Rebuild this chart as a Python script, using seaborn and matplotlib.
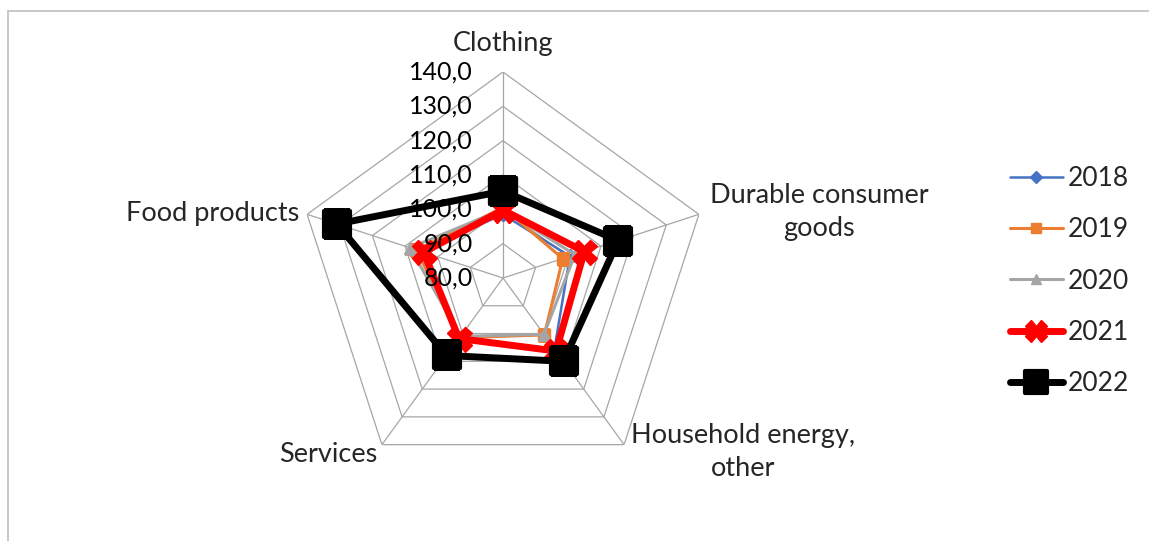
import numpy as np
import pandas as pd
import seaborn as sns
import matplotlib.pyplot as plt
from matplotlib.lines import Line2D
from matplotlib.markers import MarkerStyle
from matplotlib import transforms

# Chart data
categories = ["Clothing", "Durable consumer goods", "Household energy, other", "Services", "Food products"]
years = ["2018", "2019", "2020", "2021", "2022"]
v2018 = [98.5, 100.5, 105.5, 101.5, 105.5]
v2019 = [100.5, 98.3, 100.5, 101.5, 106.5]
v2020 = [100.0, 102.0, 100.3, 101.0, 108.5]
v2021 = [99.8, 104.9, 106.3, 101.8, 104.3]
v2022 = [105.3, 115.3, 110.0, 107.9, 130.9]
tick_values = [80, 90, 100, 110, 120, 130, 140]

series = dict(zip(years, [v2018, v2019, v2020, v2021, v2022]))

sns.set_theme(style="white")
plt.rcParams['font.family'] = ['Lato', 'DejaVu Sans']

W, H = 1149, 541
fig = plt.figure(figsize=(W / 100, H / 100), dpi=100)
fig.patch.set_facecolor("white")

# polar axes centred at (503, 278) px, radius ~206 px
cx, cy, rad = 503, 278, 206
ax = fig.add_axes([(cx - rad) / W, 1 - (cy + rad) / H, 2 * rad / W, 2 * rad / H], projection="polar")
ax.set_theta_offset(np.pi / 2)
ax.set_theta_direction(-1)
ax.set_ylim(80, 140)
ax.grid(False)
ax.spines["polar"].set_visible(False)
ax.set_xticks([])
ax.set_yticks([])
ax.set_facecolor("none")

n = len(categories)
theta = np.linspace(0, 2 * np.pi, n, endpoint=False)
theta_closed = np.append(theta, 2 * np.pi)

grid_col = "#a6a6a6"
# pentagon grid
for lv in tick_values[1:]:
    ax.plot(theta_closed, [lv] * (n + 1), color=grid_col, lw=0.9, zorder=1)
for t in theta:
    ax.plot([t, t], [80, 140], color=grid_col, lw=0.9, zorder=1)

# radial tick labels (drawn above the series, as in the original)
off = transforms.offset_copy(ax.transData, fig=fig, x=-30, y=0, units="dots")
for lv in tick_values:
    ax.text(0, lv, f"{lv:.1f}".replace(".", ","), transform=off, ha="right", va="center",
            fontsize=18, color="black", zorder=20)

styles = {
    "2018": dict(color="#4472c4", marker="D", ms=7, lw=1.8, mew=1),
    "2019": dict(color="#ed7d31", marker="s", ms=8, lw=2.2, mew=1),
    "2020": dict(color="#a5a5a5", marker="^", ms=9, lw=2.2, mew=1),
    "2021": dict(color="#ff0000", marker="X", ms=18, lw=5, mew=1),
    "2022": dict(color="#000000", marker=MarkerStyle("s", joinstyle="round"), ms=19, lw=5, mew=3),
}

handles = []
for i, yr in enumerate(years):
    vals = series[yr]
    df = pd.DataFrame({"theta": theta_closed, "value": vals + vals[:1]})
    st = styles[yr]
    sns.lineplot(data=df, x="theta", y="value", ax=ax, sort=False, estimator=None,
                 color=st["color"], marker=st["marker"], markersize=st["ms"],
                 linewidth=st["lw"], markeredgecolor=st["color"], markeredgewidth=st["mew"],
                 zorder=3 + i, legend=False)
    handles.append(Line2D([], [], color=st["color"], marker=st["marker"], markersize=st["ms"] * 0.85,
                          lw=st["lw"], markeredgecolor=st["color"], markeredgewidth=st["mew"],
                          solid_capstyle="round", label=yr))
ax.set_xlabel("")
ax.set_ylabel("")

# category labels
lab_fs = 19.5
fig.text(503 / W, 1 - 43 / H, "Clothing", ha="center", va="center", fontsize=lab_fs)
fig.text(819 / W, 1 - 212 / H, "Durable consumer\ngoods", ha="center", va="center", fontsize=lab_fs, linespacing=1.4)
fig.text(743 / W, 1 - 452 / H, "Household energy,\nother", ha="center", va="center", fontsize=lab_fs, linespacing=1.4)
fig.text(328 / W, 1 - 455 / H, "Services", ha="center", va="center", fontsize=lab_fs)
fig.text(213 / W, 1 - 213 / H, "Food products", ha="center", va="center", fontsize=lab_fs)

fig.legend(handles=handles, loc="upper left", bbox_to_anchor=(986 / W, 1 - 142 / H),
           frameon=False, fontsize=19, labelspacing=1.0, handlelength=2.0, handletextpad=0.2)

# chart frame (partially visible)
fig.add_artist(Line2D([8 / W, 1], [1 - 11 / H, 1 - 11 / H], color="#bfbfbf", lw=1.2))
fig.add_artist(Line2D([8 / W, 8 / W], [0, 1 - 11 / H], color="#bfbfbf", lw=1.2))

fig.savefig("out.png", dpi=100)
